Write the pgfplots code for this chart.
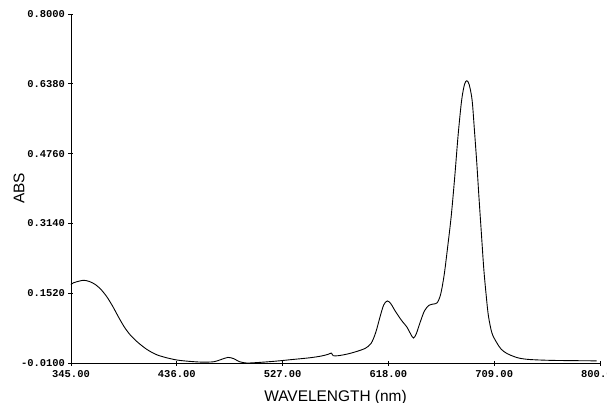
\documentclass[border=0pt]{standalone}
\usepackage{pgfplots}
\pgfplotsset{compat=1.18}
\usepackage{fontspec}
\setmainfont{Liberation Sans}
\setmonofont{Liberation Mono}
\begin{document}
\begin{tikzpicture}
\useasboundingbox (-71bp,-40bp) rectangle (536bp,363bp);
\begin{axis}[
  at={(0,0)}, anchor=south west,
  scale only axis, width=529bp, height=349bp,
  xmin=345, xmax=800, ymin=-0.01, ymax=0.8,
  axis lines=left, axis line style={-, line width=0.8pt},
  xtick={345,436,527,618,709,800},
  ytick={-0.01,0.152,0.314,0.476,0.638,0.8},
  tick align=center, major tick length=5bp,
  tick style={black, line width=0.8pt},
  /pgf/number format/assume math mode=true,
  xticklabel style={font=\ttfamily\bfseries\fontsize{10.5}{11}\selectfont, yshift=-1bp, /pgf/number format/.cd, fixed, fixed zerofill, precision=2, 1000 sep={}},
  yticklabel style={font=\ttfamily\bfseries\fontsize{10.5}{11}\selectfont, /pgf/number format/.cd, fixed, fixed zerofill, precision=4},
  xlabel={WAVELENGTH (nm)}, ylabel={ABS},
  label style={font=\fontsize{15.5}{17}\selectfont},
  xlabel style={at={(axis description cs:0.5,0)}, anchor=base, yshift=-38bp},
  ylabel style={at={(axis description cs:-0.0983,0.5)}, anchor=center},
  clip=false,
]
\addplot[black, line width=0.9pt, smooth, tension=0.5] coordinates {
(345,0.172)(347,0.176)(352,0.180)(356,0.182)(361,0.179)(366,0.172)(371,0.160)
(376,0.143)(381,0.121)(386,0.096)(391,0.073)(396,0.055)(402,0.039)(410,0.022)
(418,0.010)(426,0.003)(436,-0.003)(446,-0.006)(458,-0.008)(468,-0.007)
(474,-0.002)(480,0.003)(485,0.000)(490,-0.007)(496,-0.010)(505,-0.009)
(520,-0.006)(535,-0.002)(550,0.002)(560,0.006)(566,0.010)(569,0.013)
(570.5,0.007)(575,0.007)(583,0.011)(591,0.017)(598,0.024)(603,0.035)
(607,0.060)(611,0.099)(614,0.125)(617,0.134)(620,0.128)(624,0.110)
(629,0.090)(634,0.073)(637,0.058)(639.5,0.048)(642,0.058)(645,0.082)
(649,0.111)(653,0.124)(657,0.127)(660,0.130)(663,0.150)(666,0.195)
(669,0.260)(672,0.330)(675,0.420)(678,0.520)(681,0.600)(683.5,0.637)
(685.5,0.645)(687.5,0.636)(690,0.600)(692,0.530)(694,0.455)(696,0.370)
(698,0.290)(700,0.210)(702,0.150)(704,0.100)(707,0.060)(711,0.038)
(715,0.022)(720,0.012)(726,0.005)(731,0.001)(740,-0.002)(760,-0.004)(797,-0.005)
};
\end{axis}
\end{tikzpicture}
\end{document}
